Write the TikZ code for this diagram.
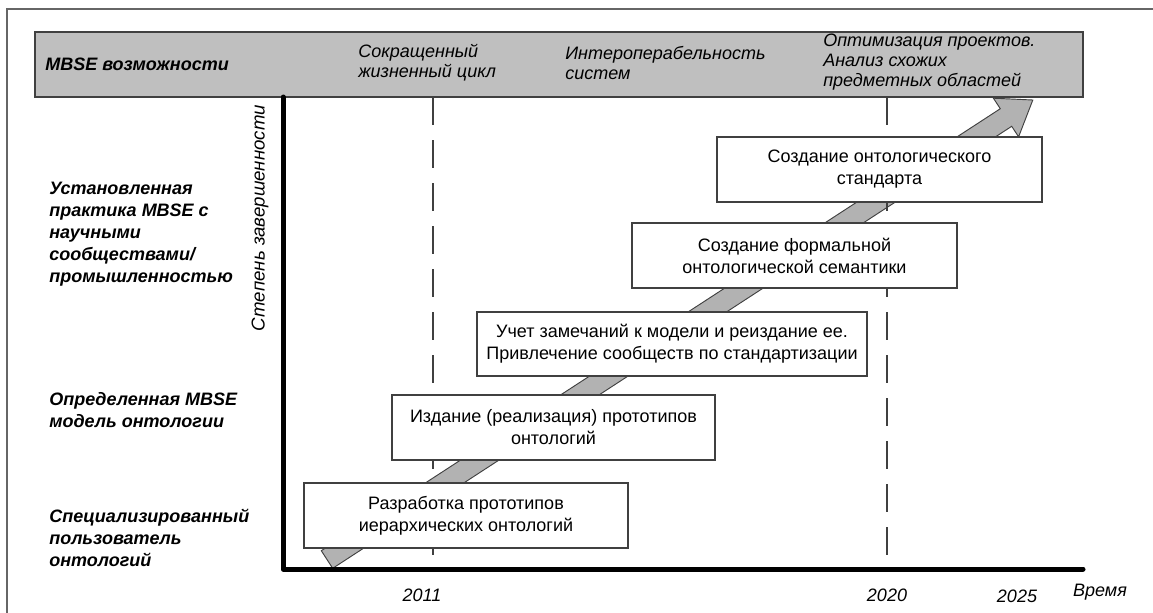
\documentclass[tikz,border=0pt]{standalone}
\usepackage{fontspec}
\setmainfont{Liberation Sans}
\definecolor{hdrfill}{gray}{0.75}
\definecolor{arrfill}{gray}{0.70}
\definecolor{darkline}{gray}{0.25}
\definecolor{framegray}{gray}{0.40}
\begin{document}
\begin{tikzpicture}[x=0.75pt,y=-0.75pt,
  stagebox/.style={draw=darkline, fill=white, line width=0.9pt, align=center, inner sep=0pt,
    font=\fontsize{13.5}{16.5}\selectfont},
  hdrtext/.style={anchor=west, align=left, inner sep=0pt, font=\fontsize{13.5}{15}\selectfont\itshape},
  lvltext/.style={anchor=west, align=left, inner sep=0pt, font=\fontsize{13.5}{16.5}\selectfont\bfseries\itshape},
  axtext/.style={inner sep=0pt, font=\fontsize{13.5}{16.5}\selectfont\itshape},
  yearline/.style={darkline, line width=1.1pt, dash pattern=on 21pt off 11.25pt},
  axisline/.style={black, line width=3.75pt, line cap=round, line join=round}]
\useasboundingbox (0,0) rectangle (1153,612);
% outer frame
\draw[framegray, line width=1.4pt] (7,615) -- (7,9) -- (1158,9);
% progress arrow
\draw[darkline, fill=arrfill, line width=0.7pt, line join=miter]
  (321.3,550.7) -- (1000.3,108.7) -- (993.4,98.2) -- (1032.8,100.0)
  -- (1018.6,136.8) -- (1011.7,126.3) -- (332.7,568.3) -- cycle;
% year lines
\coordinate (y11top) at (433,97);
\coordinate (y11bot) at (433,567);
\coordinate (y20top) at (887,97);
\coordinate (y20bot) at (887,567);
\draw[yearline] (y11top) -- (y11bot);
\draw[yearline] (y20top) -- (y20bot);
% stage boxes
\node[stagebox, minimum width=243pt, minimum height=48.75pt] (s1) at (466,515.5)
  {Разработка прототипов\\иерархических онтологий};
\node[stagebox, minimum width=242.25pt, minimum height=48.75pt] (s2) at (553.5,427.5)
  {Издание (реализация) прототипов\\онтологий};
\node[stagebox, minimum width=292.5pt, minimum height=48pt] (s3) at (672,344)
  {Учет замечаний к модели и реиздание ее.\\Привлечение сообществ по стандартизации};
\node[stagebox, minimum width=243.75pt, minimum height=48.75pt] (s4) at (794.5,255.5)
  {Создание формальной\\онтологической семантики};
\node[stagebox, minimum width=243.75pt, minimum height=48.75pt] (s5) at (879.5,169.5)
  {Создание онтологического\\стандарта};
% header bar
\draw[darkline, fill=hdrfill, line width=1pt] (35,32) rectangle (1083,97);
\node[hdrtext, font=\fontsize{13.5}{15}\selectfont\bfseries\itshape] (hmbse) at (45,64) {MBSE возможности};
\node[hdrtext] (h1) at (358,63) {Сокращенный\\жизненный цикл};
\node[hdrtext] (h2) at (565,63) {Интероперабельность\\систем};
\node[hdrtext] (h3) at (823,62) {Оптимизация проектов.\\Анализ схожих\\предметных областей};
% axes
\coordinate (axtop) at (283,97);
\coordinate (axorig) at (283,569);
\coordinate (axend) at (1083,569);
\draw[axisline] (axtop) -- (axorig) -- (axend);
% axis labels
\node[axtext, rotate=90, font=\fontsize{14}{16.5}\selectfont\itshape] (ylab) at (260,218) {Степень завершенности};
\node[axtext] (t2011) at (422,595) {2011};
\node[axtext] (t2020) at (887,595) {2020};
\node[axtext] (t2025) at (1017,596) {2025};
\node[axtext] (tvr) at (1100,592) {Время};
% level labels
\node[lvltext] (l3) at (49,234) {Установленная\\практика MBSE с\\научными\\сообществами/\\промышленностью};
\node[lvltext] (l2) at (49,410) {Определенная MBSE\\модель онтологии};
\node[lvltext] (l1) at (49,538) {Специализированный\\пользователь\\онтологий};
\end{tikzpicture}
\end{document}
